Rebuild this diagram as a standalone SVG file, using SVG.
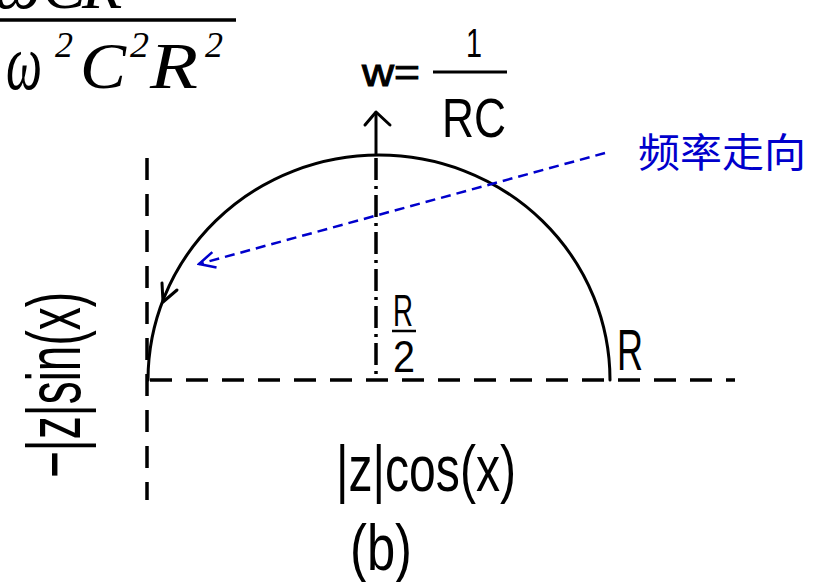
<svg xmlns="http://www.w3.org/2000/svg" width="813" height="582" viewBox="0 0 813 582">
<defs>
<style>
.blk{fill:none;stroke:#000;stroke-width:3;stroke-linecap:round;stroke-linejoin:round}
.dash{fill:none;stroke:#000;stroke-width:3.5;stroke-dasharray:22 14}
.sans{font-family:"Liberation Sans",Arial,sans-serif;fill:#000}
.math{font-family:"Liberation Serif","Times New Roman",serif;font-style:italic;fill:#000}
.cjk{font-family:"Noto Sans CJK SC","Noto Sans CJK TC",sans-serif;fill:#0000CC}
</style>
<marker id="openBlue" viewBox="0 0 20 20" refX="18" refY="10" markerWidth="20" markerHeight="20" markerUnits="userSpaceOnUse" orient="auto">
<path d="M2,2 L18,10 L2,18" fill="none" stroke="#0000CC" stroke-width="2.5"/>
</marker>
</defs>
<rect width="813" height="582" fill="#fff"/>

<g id="formula">
<text class="math" font-size="66" x="0" y="8"><tspan x="-6">ω</tspan><tspan x="42">C</tspan><tspan x="82">R</tspan></text>
<line x1="0" y1="20" x2="236" y2="20" stroke="#000" stroke-width="3.5"/>
<text class="math" font-size="80" x="6" y="89" textLength="36" lengthAdjust="spacingAndGlyphs">ω</text>
<text class="math" font-size="36" x="55" y="57" textLength="18" lengthAdjust="spacingAndGlyphs" font-style="normal">2</text>
<text class="math" font-size="66" x="80" y="88" textLength="46" lengthAdjust="spacingAndGlyphs">C</text>
<text class="math" font-size="36" x="130" y="57" textLength="19" lengthAdjust="spacingAndGlyphs" font-style="normal">2</text>
<text class="math" font-size="66" x="150" y="88" textLength="48" lengthAdjust="spacingAndGlyphs">R</text>
<text class="math" font-size="36" x="205" y="57" textLength="18" lengthAdjust="spacingAndGlyphs" font-style="normal">2</text>
</g>

<g id="axes">
<line class="dash" x1="147" y1="158" x2="147" y2="500"/>
<line class="dash" x1="150" y1="380" x2="735" y2="380"/>
<line x1="376" y1="158" x2="376" y2="380" fill="none" stroke="#000" stroke-width="3.5" stroke-dasharray="22 6 3 6"/>
</g>

<g id="semicircle">
<path class="blk" d="M148,380 A231,225 0 0 1 610,380"/>
<path class="blk" d="M162,283 L163,302 L177,290"/>
</g>

<g id="wlabel">
<line x1="376" y1="156" x2="376" y2="112" stroke="#000" stroke-width="3"/>
<path class="blk" d="M365,125 L376,112 L390,125"/>
<text class="sans" font-size="38" x="362" y="86" textLength="58" lengthAdjust="spacingAndGlyphs" stroke="#000" stroke-width="1">w=</text>
<text class="sans" font-size="40" x="466" y="57" textLength="16" lengthAdjust="spacingAndGlyphs">1</text>
<line x1="433" y1="72" x2="507" y2="72" stroke="#000" stroke-width="3"/>
<text class="sans" font-size="56" x="442" y="137" textLength="64" lengthAdjust="spacingAndGlyphs">RC</text>
</g>

<g id="halfR">
<text class="sans" font-size="44" x="393" y="326" textLength="20" lengthAdjust="spacingAndGlyphs">R</text>
<line x1="392" y1="331" x2="416" y2="331" stroke="#000" stroke-width="2.5"/>
<text class="sans" font-size="44" x="393" y="372" textLength="22" lengthAdjust="spacingAndGlyphs">2</text>
</g>

<g id="Rlabel">
<text class="sans" font-size="58" x="617" y="370" textLength="26" lengthAdjust="spacingAndGlyphs">R</text>
</g>

<g id="ylabel">
<text class="sans" font-size="76" transform="translate(80,478) rotate(-90)" textLength="186" lengthAdjust="spacingAndGlyphs">−|z|sin(x)</text>
</g>

<g id="xlabel">
<text class="sans" font-size="64" x="336" y="491" textLength="180" lengthAdjust="spacingAndGlyphs">|z|cos(x)</text>
<text class="sans" font-size="64" x="350" y="570" textLength="62" lengthAdjust="spacingAndGlyphs">(b)</text>
</g>

<g id="freqlabel">
<text class="cjk" font-size="40" x="638" y="167" textLength="168" lengthAdjust="spacingAndGlyphs">频率走向</text>
</g>

<g id="connectors">
<line x1="605" y1="153" x2="199" y2="264" stroke="#0000CC" stroke-width="2.5" stroke-dasharray="10 6" marker-end="url(#openBlue)"/>
</g>
</svg>
